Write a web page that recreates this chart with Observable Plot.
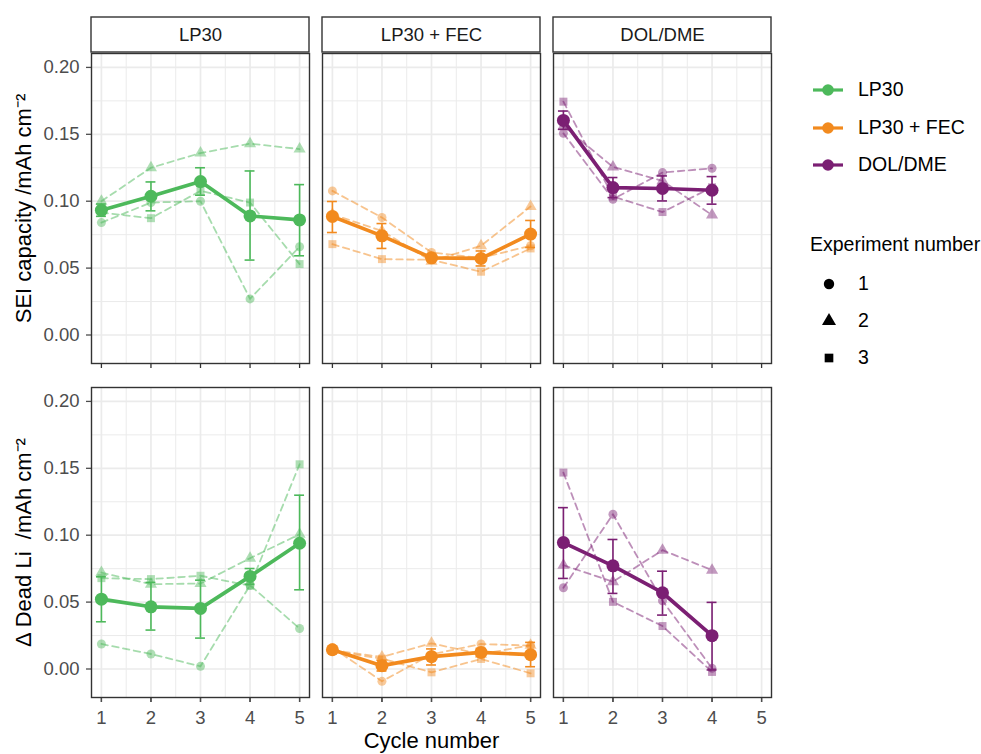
<!DOCTYPE html>
<html><head><meta charset="utf-8">
<script src="https://cdn.jsdelivr.net/npm/d3@7"></script>
<script src="https://cdn.jsdelivr.net/npm/@observablehq/plot@0.6"></script>
<style>
body{margin:0;background:#fff;font-family:"Liberation Sans",Arial,sans-serif;}
#wrap{position:relative;width:981px;height:754px;overflow:hidden;}
#chart{position:absolute;left:0;top:0;}
.lg{position:absolute;font-size:19.5px;color:#000;white-space:nowrap;line-height:1;}
.lg svg{position:absolute;}
</style></head><body><div id="wrap"><div id="chart"></div></div>
<script>
const electrolytes = ["LP30", "LP30 + FEC", "DOL/DME"];
const colors = ["#4DB95B", "#F28A1E", "#7B1F73"];
const cycles = [1, 2, 3, 4, 5];
const experiments = [1, 2, 3];
const metrics = ["SEI", "Dead"];
const metricLabels = ["SEI capacity /mAh cm\u207B\u00B2", "\u0394 Dead Li  /mAh cm\u207B\u00B2"];
const yTicks = [0, 0.05, 0.10, 0.15, 0.20];
const yMinor = [0.025, 0.075, 0.125, 0.175];
const xMinor = [1.5, 2.5, 3.5, 4.5];

// SEI capacity: one inner array per electrolyte (LP30, LP30 + FEC, DOL/DME), values per cycle
const seiExp1 = [[0.084, 0.099, 0.100, 0.027, 0.066], [0.1077, 0.0878, 0.0617, 0.0576, 0.0667], [0.1507, 0.1015, 0.1214, 0.1246]];
const seiExp2 = [[0.100, 0.125, 0.136, 0.143, 0.139], [0.0902, 0.0778, 0.0552, 0.0667, 0.096], [0.1561, 0.1256, 0.1152, 0.0896]];
const seiExp3 = [[0.0915, 0.0873, 0.1077, 0.099, 0.053], [0.0679, 0.0567, 0.0562, 0.0473, 0.0647], [0.1744, 0.1035, 0.0919, 0.1104]];
const seiMean = [[0.0933, 0.1037, 0.1147, 0.089, 0.086], [0.0886, 0.0741, 0.0577, 0.0572, 0.0754], [0.1604, 0.1102, 0.1095, 0.1082]];
const seiLo   = [[0.0887, 0.0928, 0.1045, 0.056, 0.0592], [0.0766, 0.0647, 0.0557, 0.0516, 0.0654], [0.1537, 0.1027, 0.1002, 0.0978]];
const seiHi   = [[0.0979, 0.1144, 0.125, 0.1226, 0.1124], [0.0998, 0.0833, 0.0597, 0.0628, 0.0856], [0.1674, 0.1177, 0.1189, 0.1184]];

// Delta dead Li
const deadExp1 = [[0.0187, 0.0112, 0.002, 0.0626, 0.0303], [0.016, -0.0092, 0.0109, 0.0187, 0.0175], [0.0607, 0.1157, 0.051, 0.0005]];
const deadExp2 = [[0.0721, 0.0634, 0.0639, 0.0828, 0.1007], [0.014, 0.009, 0.0192, 0.011, 0.0178], [0.0776, 0.0652, 0.0888, 0.0739]];
const deadExp3 = [[0.0679, 0.0672, 0.0697, 0.0622, 0.153], [0.0135, 0.0077, -0.0025, 0.0075, -0.0032], [0.1468, 0.0502, 0.0321, -0.0022]];
const deadMean = [[0.0522, 0.0465, 0.0453, 0.0692, 0.094], [0.0144, 0.0025, 0.0092, 0.0124, 0.0107], [0.0945, 0.0771, 0.057, 0.0249]];
const deadLo   = [[0.0353, 0.0291, 0.0231, 0.0634, 0.0592], [0.0137, -0.0015, 0.003, 0.0094, 0.0017], [0.0677, 0.0565, 0.0403, -0.0007]];
const deadHi   = [[0.0689, 0.0647, 0.0664, 0.0751, 0.1299], [0.0152, 0.0065, 0.015, 0.0154, 0.0199], [0.1206, 0.0968, 0.0731, 0.0498]];

function expRowsFor(metric, exps) {
  const rows = [];
  exps.forEach((arr, e) => arr.forEach((vals, k) => vals.forEach((v, c) => {
    rows.push({metric, el: electrolytes[k], exp: experiments[e], cycle: cycles[c], value: v});
  })));
  return rows;
}
function meanRowsFor(metric, mean, lo, hi) {
  const rows = [];
  mean.forEach((vals, k) => vals.forEach((v, c) => {
    rows.push({metric, el: electrolytes[k], cycle: cycles[c], mean: v, lo: lo[k][c], hi: hi[k][c]});
  }));
  return rows;
}
const expRows = [...expRowsFor("SEI", [seiExp1, seiExp2, seiExp3]), ...expRowsFor("Dead", [deadExp1, deadExp2, deadExp3])];
const meanRows = [...meanRowsFor("SEI", seiMean, seiLo, seiHi), ...meanRowsFor("Dead", deadMean, deadLo, deadHi)];

const W = 981, H = 754, mL = 90, mR = 208, mT = 52, mB = 56;
const fyPad = 0.0716, fxPad = 0.056;
const bandH = Math.round(((H - mT - mB) / (2 - fyPad)) * (1 - fyPad));
const grid = "#EBEBEB";
const fx = {fx: "el", fy: "metric"};

const chart = Plot.plot({
  width: W, height: H,
  marginLeft: mL, marginRight: mR, marginTop: mT, marginBottom: mB,
  style: {fontFamily: "'Liberation Sans', Arial, sans-serif", fontSize: "18px", background: "white", overflow: "visible"},
  x: {domain: [0.8, 5.2]},
  y: {domain: [-0.0213, 0.2104]},
  fx: {domain: electrolytes, paddingInner: fxPad, paddingOuter: 0, axis: null, label: null},
  fy: {domain: metrics, paddingInner: fyPad, paddingOuter: 0, axis: null, label: null},
  color: {domain: electrolytes, range: colors},
  symbol: {domain: experiments, range: ["circle", "triangle", "square"]},
  marks: [
    Plot.ruleX(xMinor, {stroke: grid, strokeWidth: 1}),
    Plot.ruleY(yMinor, {stroke: grid, strokeWidth: 1}),
    Plot.ruleX(cycles, {stroke: grid, strokeWidth: 1.7}),
    Plot.ruleY(yTicks, {stroke: grid, strokeWidth: 1.7}),
    Plot.axisY({ticks: yTicks, tickFormat: d3.format(".2f"), tickSize: 5, tickPadding: 7, fontSize: 18.5, color: "#4D4D4D", strokeWidth: 1.3, label: null}),
    Plot.axisX({ticks: cycles, tickFormat: () => "", tickSize: 5, facetAnchor: null, color: "#333", strokeWidth: 1.3, label: null}),
    Plot.axisX({ticks: cycles, tickFormat: d3.format("d"), tickSize: 5, tickPadding: 8, fontSize: 18.5, color: "#4D4D4D", strokeWidth: 1.3, label: null}),
    Plot.line(expRows, {...fx, x: "cycle", y: "value", z: "exp", stroke: "el", strokeOpacity: 0.5, strokeWidth: 1.8, strokeDasharray: "6.5,4.5"}),
    Plot.dot(expRows, {...fx, x: "cycle", y: "value", symbol: "exp", fill: "el", fillOpacity: 0.45, r: 4.5}),
    Plot.ruleX(meanRows, {...fx, x: "cycle", y1: "lo", y2: "hi", stroke: "el", strokeWidth: 1.6}),
    Plot.ruleY(meanRows, {...fx, y: "lo", x1: d => d.cycle - 0.1, x2: d => d.cycle + 0.1, stroke: "el", strokeWidth: 1.6}),
    Plot.ruleY(meanRows, {...fx, y: "hi", x1: d => d.cycle - 0.1, x2: d => d.cycle + 0.1, stroke: "el", strokeWidth: 1.6}),
    Plot.line(meanRows, {...fx, x: "cycle", y: "mean", stroke: "el", strokeWidth: 3.7}),
    Plot.dot(meanRows, {...fx, x: "cycle", y: "mean", fill: "el", r: 6.5}),
    Plot.frame({stroke: "#333", strokeWidth: 1.4}),
    Plot.rect(electrolytes, {fx: d => d, fy: () => "SEI", fill: "white", stroke: "#333", strokeWidth: 1.4, insetTop: -36, insetBottom: bandH}),
    Plot.text(electrolytes, {fx: d => d, fy: () => "SEI", text: d => d, frameAnchor: "top", lineAnchor: "middle", dy: -18, fontSize: 18.5, fill: "#1A1A1A"}),
    Plot.text(metricLabels, {fx: () => "LP30", fy: (d, i) => metrics[i], text: d => d, frameAnchor: "left", textAnchor: "middle", lineAnchor: "middle", rotate: -90, dx: -68, fontSize: 22, fill: "#000"}),
    Plot.text(["Cycle number"], {fx: () => "LP30 + FEC", fy: () => "Dead", text: d => d, frameAnchor: "bottom", lineAnchor: "middle", dy: 43, fontSize: 22, fill: "#000"})
  ]
});
document.getElementById("chart").appendChild(chart);

// Legend (HTML)
const wrap = document.getElementById("wrap");
function add(html, left, top) {
  const d = document.createElement("div");
  d.className = "lg"; d.style.left = left + "px"; d.style.top = top + "px";
  d.innerHTML = html; wrap.appendChild(d); return d;
}
const keyY = [90, 128, 165];
electrolytes.forEach((name, i) => {
  add(`<svg width="34" height="20" style="left:0;top:0"><line x1="2" x2="32" y1="10" y2="10" stroke="${colors[i]}" stroke-width="3.2"/><circle cx="17" cy="10" r="5.8" fill="${colors[i]}"/></svg>`, 811, keyY[i] - 10);
  add(name, 858, keyY[i] - 10);
});
add("Experiment number", 810, 235);
const symY = [284, 321, 358];
const symbolPaths = [d3.symbol(d3.symbolCircle, 85)(), d3.symbol(d3.symbolTriangle, 85)(), d3.symbol(d3.symbolSquare, 75)()];
experiments.forEach((e, i) => {
  add(`<svg width="20" height="20" style="left:0;top:0"><path transform="translate(10,10)" d="${symbolPaths[i]}" fill="#000"/></svg>`, 819, symY[i] - 10);
  add(String(e), 858, symY[i] - 10);
});
</script></body></html>
